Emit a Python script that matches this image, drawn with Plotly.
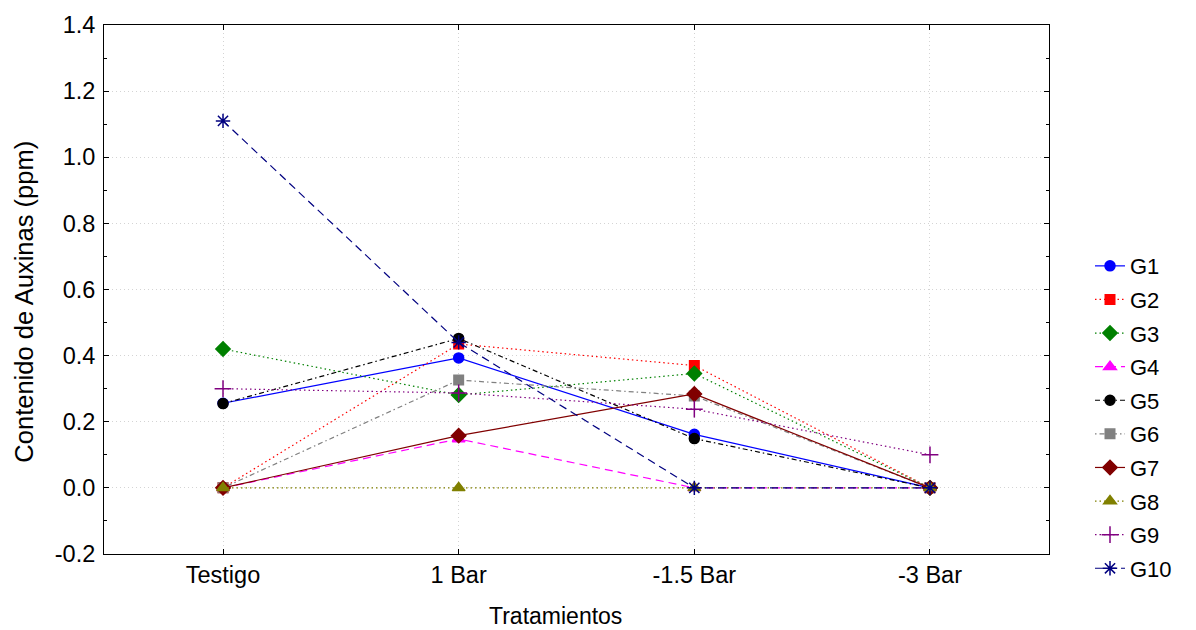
import plotly.graph_objects as go

categories = ["Testigo", "1 Bar", "-1.5 Bar", "-3 Bar"]
series_names = ["G1", "G2", "G3", "G4", "G5", "G6", "G7", "G8", "G9", "G10"]
y_ticks = [-0.2, 0.0, 0.2, 0.4, 0.6, 0.8, 1.0, 1.2, 1.4]
y_tick_labels = ["-0.2", "0.0", "0.2", "0.4", "0.6", "0.8", "1.0", "1.2", "1.4"]

g1 = [0.256, 0.393, 0.162, 0.0]
g2 = [0.0, 0.435, 0.37, 0.0]
g3 = [0.42, 0.281, 0.346, 0.0]
g4 = [0.0, 0.148, 0.0, 0.0]
g5 = [0.255, 0.452, 0.149, 0.0]
g6 = [0.0, 0.326, 0.278, 0.0]
g7 = [0.0, 0.158, 0.284, 0.0]
g8 = [0.0, 0.0, 0.0, 0.0]
g9 = [0.30, 0.287, 0.238, 0.10]
g10 = [1.11, 0.44, 0.0, 0.0]

values = [g1, g2, g3, g4, g5, g6, g7, g8, g9, g10]

styles = [
    dict(color="#0000FF", dash="solid", symbol="circle", size=10),
    dict(color="#FF0000", dash="1.5px,3px", symbol="square", size=9.5),
    dict(color="#008000", dash="1.5px,3px", symbol="diamond", size=11),
    dict(color="#FF00FF", dash="8px,5px", symbol="triangle-up", size=11),
    dict(color="#000000", dash="5px,3px,1.5px,3px", symbol="circle", size=10),
    dict(color="#808080", dash="1.5px,3px,5px,3px", symbol="square", size=9.5),
    dict(color="#800000", dash="solid", symbol="diamond", size=11),
    dict(color="#808000", dash="1.5px,3px", symbol="triangle-up", size=11),
    dict(color="#800080", dash="1.5px,3px", symbol="cross-thin-open", size=12),
    dict(color="#000080", dash="8px,5px", symbol="asterisk-open", size=12),
]

xpos = list(range(len(categories)))

fig = go.Figure()
for name, vals, st in zip(series_names, values, styles):
    fig.add_trace(go.Scatter(
        x=xpos, y=vals, name=name, mode="lines+markers",
        legendgroup=name,
        line=dict(color=st["color"], dash=st["dash"], width=1.2),
        marker=dict(color=st["color"], symbol=st["symbol"], size=st["size"],
                    line=dict(color=st["color"], width=1.5)),
    ))

font = "Liberation Sans, Arial, sans-serif"
fig.update_layout(
    width=1196, height=630,
    margin=dict(l=104, r=147, t=15, b=76),
    paper_bgcolor="white", plot_bgcolor="white",
    font=dict(family=font, size=22, color="black"),
    showlegend=True,
    legend=dict(x=(1090 - 104) / 945, xanchor="left", y=0.584, yanchor="top",
                font=dict(size=22), tracegroupgap=2, itemwidth=30,
                bgcolor="rgba(0,0,0,0)"),
    xaxis=dict(
        range=[-0.505, 3.505], tickvals=xpos, ticktext=categories,
        showline=True, linecolor="black", linewidth=1, mirror="ticks",
        ticks="inside", ticklen=5, tickcolor="black",
        showgrid=True, gridcolor="#d4d4d4", griddash="1px,3px", gridwidth=1,
        zeroline=False,
        tickfont=dict(size=23.5),
    ),
    yaxis=dict(
        range=[-0.2, 1.4], tickvals=y_ticks, ticktext=y_tick_labels,
        showline=True, linecolor="black", linewidth=1, mirror="ticks",
        ticks="inside", ticklen=5, tickcolor="black",
        minor=dict(dtick=0.1, ticks="inside", ticklen=3, tickcolor="black", showgrid=False),
        showgrid=True, gridcolor="#d4d4d4", griddash="1px,3px", gridwidth=1,
        zeroline=False, ticklabelstandoff=3,
        tickfont=dict(size=23.5),
    ),
    annotations=[
        dict(text="Tratamientos", xref="paper", yref="paper",
             x=(555 - 104) / 945, y=(554 - 617) / 538.7,
             xanchor="center", yanchor="middle", showarrow=False,
             font=dict(size=23)),
        dict(text="Contenido de Auxinas (ppm)", xref="paper", yref="paper",
             x=(24 - 104) / 945, y=(554 - 297) / 538.7, textangle=-90,
             xanchor="center", yanchor="middle", showarrow=False,
             font=dict(size=25.5)),
    ],
)

fig.write_html("out.html")
